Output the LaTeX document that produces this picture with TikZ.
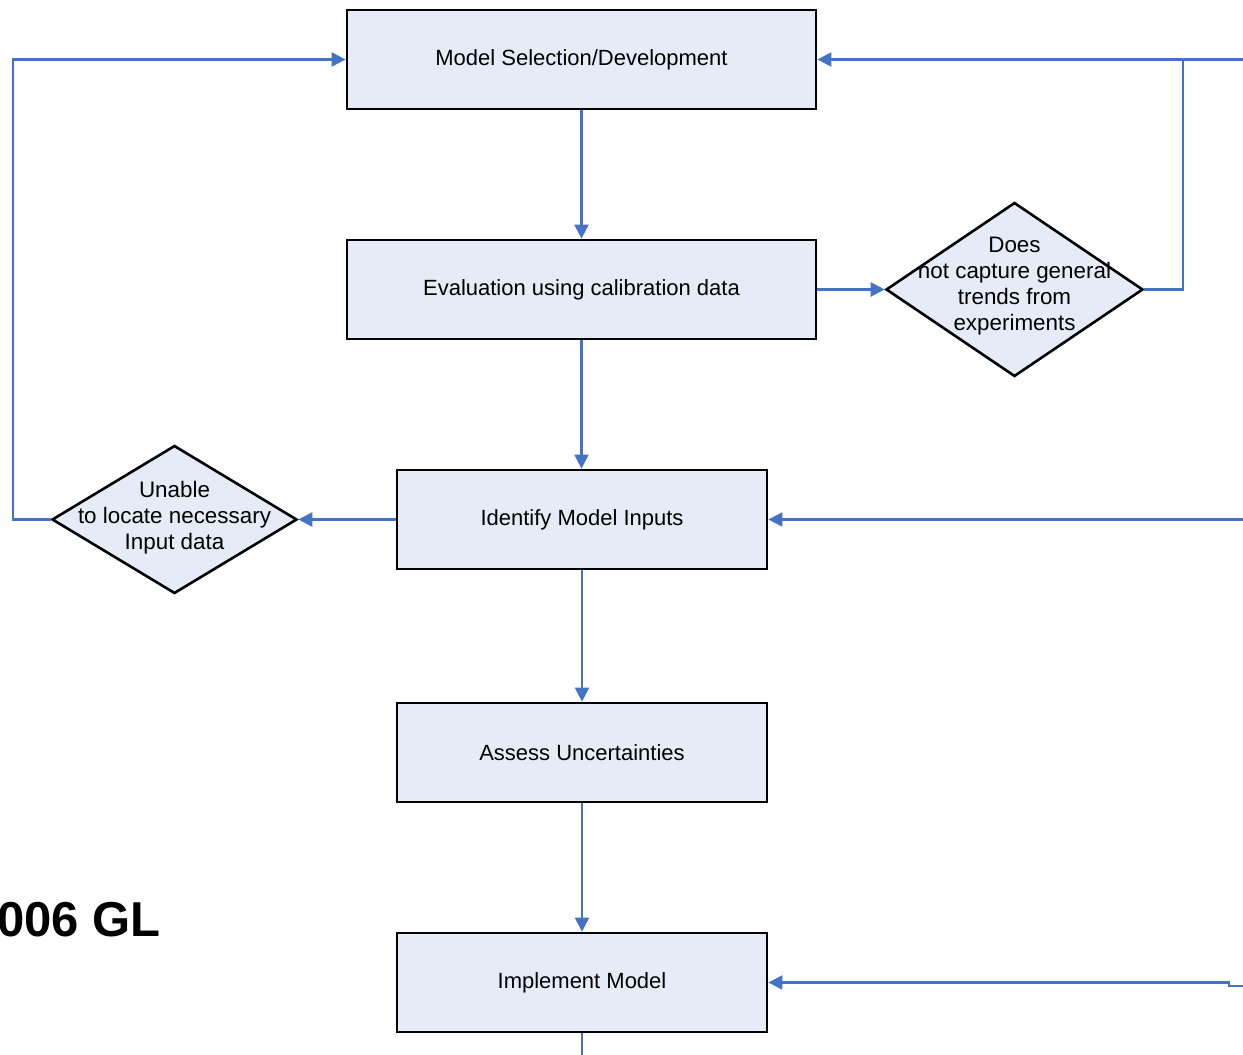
\documentclass[tikz,border=0pt]{standalone}
\usepackage{fontspec}
\setmainfont{Liberation Sans}
\usetikzlibrary{shapes.geometric,arrows.meta}
\definecolor{flowblue}{HTML}{4472C4}
\definecolor{boxfill}{HTML}{E6ECF7}
\tikzset{
  procbox/.style={draw=black,line width=1.4pt,fill=boxfill,inner sep=0pt,minimum height=49.5pt,font=\fontsize{11}{13}\selectfont},
  decbox/.style={draw=black,line width=1.3pt,fill=boxfill,diamond,inner sep=0pt},
  dectext/.style={align=center,font=\fontsize{11.2}{13}\selectfont,inner sep=0pt},
  flow/.style={draw=flowblue,line width=1.1pt,-{Triangle[length=7pt,width=7pt]}},
  plain/.style={draw=flowblue,line width=1.1pt}
}
\begin{document}
\begin{tikzpicture}[x=0.5pt,y=-0.5pt]
\useasboundingbox (0,0) rectangle (1243,1055);
\node[procbox,minimum width=234.5pt] (ms) at (581.5,59.5) {Model Selection/Development};
\node[procbox,minimum width=234.5pt] (ev) at (581.5,289.5) {Evaluation using calibration data};
\node[procbox,minimum width=185pt] (im) at (582,519.5) {Identify Model Inputs};
\node[procbox,minimum width=185pt] (au) at (582,752.5) {Assess Uncertainties};
\node[procbox,minimum width=185pt] (ip) at (582,982.5) {Implement Model};
\node[decbox,minimum width=128.5pt,minimum height=87pt] (d1) at (1014.5,289.5) {};
\node[dectext] (d1t) at (1014.5,286) {Does\\not capture general\\trends from\\experiments};
\node[decbox,minimum width=122.5pt,minimum height=74pt] (d2) at (174.5,519.5) {};
\node[dectext] (d2t) at (174.5,518) {Unable\\to locate necessary\\Input data};
\node[font=\bfseries\fontsize{24.5}{28}\selectfont,anchor=west,inner sep=0pt] (gl) at (-3,920) {006 GL};
\coordinate (r1) at (1243,59.5);
\coordinate (j1) at (1183,59.5);
\coordinate (r2) at (1243,519.5);
\coordinate (r3) at (1243,986);
\coordinate (s3) at (1229,986);
\coordinate (b1) at (581.5,1055);
\coordinate (l1) at (13,519.5);
% vertical flow
\draw[flow] (ms.south) -- (ev.north);
\draw[flow] (ev.south) -- (ev.south |- im.north);
\draw[flow] (im.south) -- (au.north);
\draw[flow] (au.south) -- (ip.north);
\draw[plain] (ip.south) -- (ip.south |- b1);
% right loop
\draw[flow] (ev.east) -- (d1.west);
\draw[plain] (d1.east) -| (j1);
\draw[flow] (r1) -- (ms.east);
% left loop
\draw[flow] (im.west) -- (d2.east);
\draw[flow] (d2.west) -- (l1) |- (ms.west);
% inputs from right
\draw[flow] (r2) -- (im.east);
\draw[flow] (r3) -- (s3) |- (ip.east);
\end{tikzpicture}
\end{document}
